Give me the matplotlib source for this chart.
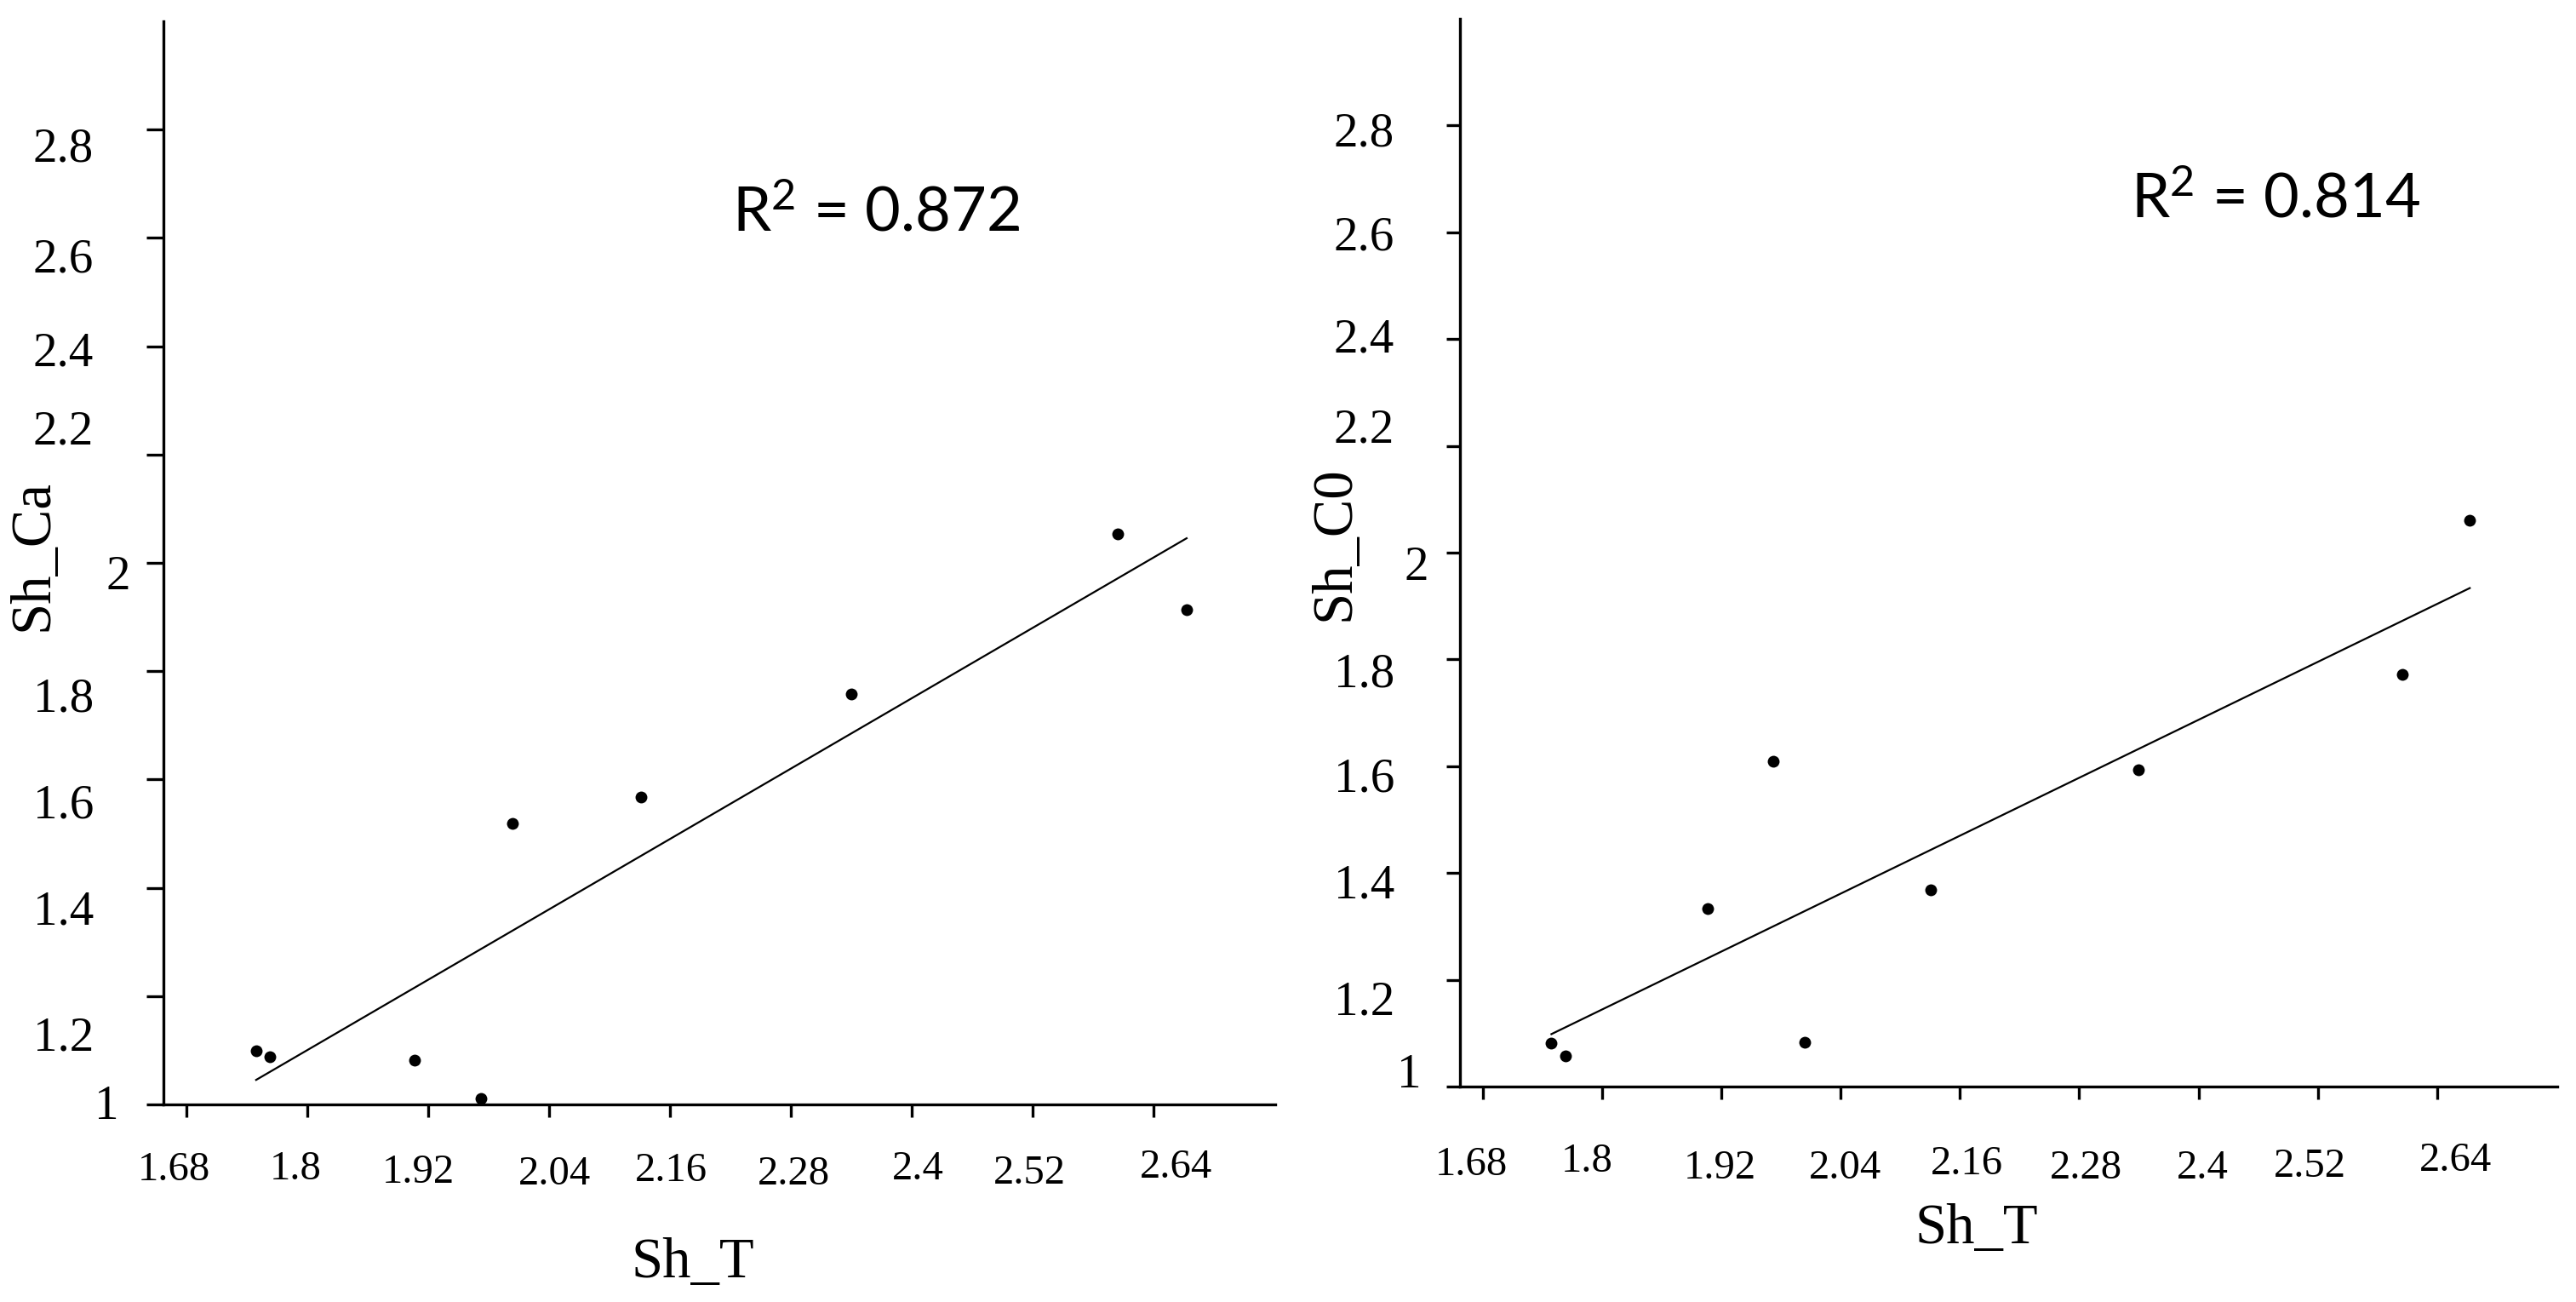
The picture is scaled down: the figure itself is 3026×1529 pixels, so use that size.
"""
Sh_T 与 Sh_Ca / Sh_C0 的散点及线性拟合（两幅并排）
输出：out.png
"""
import numpy as np
import matplotlib
matplotlib.use("Agg")
import matplotlib.pyplot as plt
from matplotlib.transforms import blended_transform_factory, offset_copy

# ---- data ----
sh_t = [1.749, 1.763, 1.906, 1.972, 2.004, 2.131, 2.340, 2.605, 2.673]
sh_ca = [1.099, 1.088, 1.082, 1.011, 1.519, 1.567, 1.758, 2.053, 1.913]
sh_c0 = [1.081, 1.058, 1.333, 1.610, 1.083, 1.369, 1.594, 1.772, 2.060]

x_ticks = [1.68, 1.80, 1.92, 2.04, 2.16, 2.28, 2.40, 2.52, 2.64]
x_tick_labels = ['1.68', '1.8', '1.92', '2.04', '2.16', '2.28', '2.4', '2.52', '2.64']
y_ticks = [1.0, 1.2, 1.4, 1.6, 1.8, 2.0, 2.2, 2.4, 2.6, 2.8]
y_tick_labels = ['1', '1.2', '1.4', '1.6', '1.8', '2', '2.2', '2.4', '2.6', '2.8']

r2_ca = r'R$^2$ = 0.872'
r2_c0 = r'R$^2$ = 0.814'

# ---- layout (pixels of the 3026x1529 canvas) ----
W, H = 3026, 1529
plt.rcParams['font.family'] = ['Liberation Serif', 'DejaVu Serif']
# R² 用无衬线字体，上标也走同一字体
plt.rcParams['mathtext.fontset'] = 'custom'
plt.rcParams['mathtext.rm'] = 'Lato'
plt.rcParams['mathtext.it'] = 'Lato'
plt.rcParams['mathtext.default'] = 'rm'

fig = plt.figure(figsize=(W / 100, H / 100), dpi=100)


def px_axes(l, t, r, b):
    return fig.add_axes([l / W, 1 - b / H, (r - l) / W, (b - t) / H])


def to_axes(ax, px, py):
    return ax.transAxes.inverted().transform(fig.transFigure.transform((px / W, 1 - py / H)))


def draw_panel(ax, yvals, ylabel, r2, r2_xy, xlab_xy, ylab_xy,
               x_nudge, y_nudge, y_gap, ytick_len):
    ax.set_xlim(1.657, 2.761)
    ax.set_ylim(1.0, 3.0)

    ax.plot(sh_t, yvals, 'o', ms=10, color='black', mew=0, clip_on=False)
    k, b = np.polyfit(sh_t, yvals, 1)
    xs = np.array([min(sh_t), max(sh_t)])
    ax.plot(xs, k * xs + b, color='black', lw=1.6)

    for s in ['top', 'right']:
        ax.spines[s].set_visible(False)
    for s in ['left', 'bottom']:
        ax.spines[s].set_linewidth(2.4)

    ax.set_xticks(x_ticks)
    ax.set_yticks(y_ticks)
    ax.tick_params(axis='x', direction='out', length=10.8, width=2.4, labelbottom=False)
    ax.tick_params(axis='y', direction='out', length=ytick_len, width=2.4, labelleft=False)

    # tick labels sit a little off their ticks in the original, so place them by hand
    xt = blended_transform_factory(ax.transData, ax.transAxes)
    for val, lab, (dx, dy) in zip(x_ticks, x_tick_labels, x_nudge):
        tr = offset_copy(xt, fig=fig, x=dx, y=-(dy + 16.4), units='dots')
        ax.text(val, 0, lab, transform=tr, ha='center', va='baseline', fontsize=35)

    yt = blended_transform_factory(ax.transAxes, ax.transData)
    for val, lab, dy, gap in zip(y_ticks, y_tick_labels, y_nudge, y_gap):
        tr = offset_copy(yt, fig=fig, x=-gap, y=-(dy + 19.2), units='dots')
        ax.text(0, val, lab, transform=tr, ha='right', va='baseline', fontsize=41)

    ax.set_xlabel('Sh_T', fontsize=48)
    ax.xaxis.label.set_va('baseline')
    ax.xaxis.set_label_coords(*to_axes(ax, *xlab_xy))

    ax.set_ylabel(ylabel, fontsize=48)
    ax.yaxis.label.set_va('center')
    ax.yaxis.set_label_coords(*to_axes(ax, *ylab_xy))

    fig.text(r2_xy[0] / W, 1 - r2_xy[1] / H, r2, ha='left', va='baseline',
             fontsize=52, family=['Lato', 'DejaVu Sans'])


ax1 = px_axes(192, 25, 1498, 1297)
ax2 = px_axes(1715, 22, 3004, 1276)

draw_panel(ax1, sh_ca, 'Sh_Ca', r2_ca, (860, 271), (814, 1500), (39, 652),
           x_nudge=[(-15, 73), (-14, 72), (-12, 76), (6, 78), (1, 74),
                    (3, 78), (7, 72), (-4, 77), (27, 70)],
           y_nudge=[-2, 44, 24, 26, 28, 12, -31, 4, 21, 18],
           y_gap=[52, 82, 82, 82, 82, 39, 82, 82, 82, 82],
           ytick_len=14.4)

draw_panel(ax2, sh_c0, 'Sh_C0', r2_c0, (2503, 255), (2322, 1460), (1568, 638),
           x_nudge=[(-13, 88), (-18, 84), (-2, 92), (5, 92), (8, 87),
                    (8, 92), (5, 92), (-9, 90), (22, 83)],
           y_nudge=[-18, 22, 10, 10, 13, 13, -23, -4, 2, 5],
           y_gap=[45, 77, 77, 77, 77, 37, 77, 77, 77, 77],
           ytick_len=11.5)

fig.savefig('out.png', dpi=100, facecolor='white')
